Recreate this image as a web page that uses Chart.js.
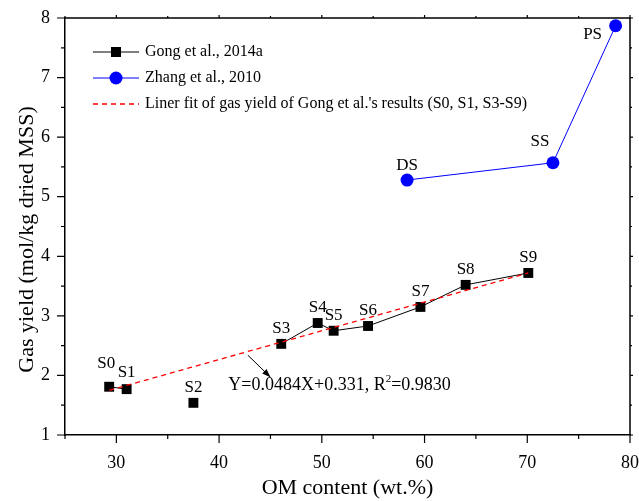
<!DOCTYPE html>
<html>
<head>
<meta charset="utf-8">
<script src="https://cdn.jsdelivr.net/npm/chart.js@4.4.1/dist/chart.umd.min.js"></script>
<style>
  html, body { margin: 0; padding: 0; background: #fff; }
  #wrap { width: 639px; height: 501px; }
</style>
</head>
<body>
<div id="wrap"><canvas id="myChart" width="639" height="501"></canvas></div>
<script>
// Gong et al., 2014a
const gongLabels = ['S0', 'S1', 'S2', 'S3', 'S4', 'S5', 'S6', 'S7', 'S8', 'S9'];
const gongX = [29.3, 31.0, 37.5, 46.05, 49.6, 51.15, 54.5, 59.6, 64.0, 70.1];
const gongY = [1.81, 1.77, 1.54, 2.53, 2.88, 2.75, 2.83, 3.15, 3.52, 3.72];

// Zhang et al., 2010
const zhangLabels = ['DS', 'SS', 'PS'];
const zhangX = [58.3, 72.5, 78.6];
const zhangY = [5.28, 5.57, 7.87];

// linear fit (S0, S1, S3-S9), ends
const fitX = [29.3, 70.1];
const fitY = [1.75, 3.72];

const xTickLabels = [30, 40, 50, 60, 70, 80];
const yTickLabels = [1, 2, 3, 4, 5, 6, 7, 8];

const fitText = 'Y=0.0484X+0.331, R';
const fitText2 = '=0.9830';

const serif = "'Liberation Serif', 'Times New Roman', serif";

// per-label nudges in px (default is straight above the marker)
const labelNudge = {
  S0: [-3, -23], S1: [0, -17], SS: [-13, -21], PS: [-23, 9]
};

const toPoints = (xs, ys) => xs.map((x, i) => ({ x: x, y: ys[i] }));

const decorPlugin = {
  id: 'decor',
  afterDatasetsDraw(chart) {
    const { ctx, chartArea: a, scales: { x, y } } = chart;
    ctx.save();

    // frame top + right
    ctx.strokeStyle = '#000';
    ctx.lineWidth = 1.5;
    ctx.beginPath();
    ctx.moveTo(a.left, a.top); ctx.lineTo(a.right, a.top); ctx.lineTo(a.right, a.bottom);
    ctx.stroke();

    // ticks, outward on all sides
    ctx.lineWidth = 1.2;
    ctx.beginPath();
    x.ticks.forEach(t => {
      const px = x.getPixelForValue(t.value);
      const major = t.value % 10 === 0;
      ctx.moveTo(px, a.bottom); ctx.lineTo(px, a.bottom + (major ? 8 : 4));
      ctx.moveTo(px, a.top); ctx.lineTo(px, a.top - (major ? 3 : 2));
    });
    y.ticks.forEach(t => {
      const py = y.getPixelForValue(t.value);
      const major = Number.isInteger(t.value);
      ctx.moveTo(a.left, py); ctx.lineTo(a.left - (major ? 8 : 4), py);
      ctx.moveTo(a.right, py); ctx.lineTo(a.right + (major ? 3 : 2), py);
    });
    ctx.stroke();

    // point labels
    ctx.fillStyle = '#000';
    ctx.font = '17px ' + serif;
    ctx.textAlign = 'center';
    ctx.textBaseline = 'middle';
    const drawLabels = (labels, xs, ys) => {
      labels.forEach((lab, i) => {
        const n = labelNudge[lab] || [0, -15];
        ctx.fillText(lab, x.getPixelForValue(xs[i]) + n[0], y.getPixelForValue(ys[i]) + n[1]);
      });
    };
    drawLabels(gongLabels, gongX, gongY);
    drawLabels(zhangLabels, zhangX, zhangY);

    // arrow to the fit equation
    const ax0 = x.getPixelForValue(42.8), ay0 = y.getPixelForValue(2.34);
    const ax1 = x.getPixelForValue(45.0), ay1 = y.getPixelForValue(1.97);
    ctx.lineWidth = 1;
    ctx.beginPath();
    ctx.moveTo(ax0, ay0); ctx.lineTo(ax1, ay1);
    ctx.stroke();
    const ang = Math.atan2(ay1 - ay0, ax1 - ax0);
    ctx.beginPath();
    ctx.moveTo(ax1, ay1);
    ctx.lineTo(ax1 - 9 * Math.cos(ang - 0.35), ay1 - 9 * Math.sin(ang - 0.35));
    ctx.lineTo(ax1 - 9 * Math.cos(ang + 0.35), ay1 - 9 * Math.sin(ang + 0.35));
    ctx.closePath();
    ctx.fill();

    // equation
    ctx.font = '18px ' + serif;
    ctx.textAlign = 'left';
    let tx = x.getPixelForValue(40.9);
    const ty = y.getPixelForValue(1.84);
    ctx.fillText(fitText, tx, ty);
    tx += ctx.measureText(fitText).width;
    ctx.font = '11px ' + serif;
    ctx.fillText('2', tx, ty - 6);
    tx += ctx.measureText('2').width;
    ctx.font = '18px ' + serif;
    ctx.fillText(fitText2, tx, ty);

    // legend
    const lx0 = a.left + 28, lx1 = a.left + 74, lt = a.left + 80;
    const rows = [a.top + 34, a.top + 60, a.top + 86];
    ctx.font = '16px ' + serif;
    ctx.lineWidth = 1;
    ctx.strokeStyle = '#000';
    ctx.beginPath(); ctx.moveTo(lx0, rows[0]); ctx.lineTo(lx1, rows[0]); ctx.stroke();
    ctx.fillStyle = '#000';
    ctx.fillRect((lx0 + lx1) / 2 - 5, rows[0] - 5, 10, 10);
    ctx.strokeStyle = '#0000ff';
    ctx.beginPath(); ctx.moveTo(lx0, rows[1]); ctx.lineTo(lx1, rows[1]); ctx.stroke();
    ctx.fillStyle = '#0000ff';
    ctx.beginPath(); ctx.arc((lx0 + lx1) / 2, rows[1], 6.5, 0, Math.PI * 2); ctx.fill();
    ctx.strokeStyle = '#ff0000';
    ctx.lineWidth = 1.3;
    ctx.setLineDash([5, 4]);
    ctx.beginPath(); ctx.moveTo(lx0, rows[2]); ctx.lineTo(lx1, rows[2]); ctx.stroke();
    ctx.setLineDash([]);
    ctx.fillStyle = '#000';
    ctx.fillText('Gong et al., 2014a', lt, rows[0]);
    ctx.fillText('Zhang et al., 2010', lt, rows[1]);
    ctx.fillText("Liner fit of gas yield of Gong et al.'s results (S0, S1, S3-S9)", lt, rows[2]);

    // y axis title
    ctx.font = '22px ' + serif;
    ctx.textAlign = 'center';
    ctx.translate(27, (a.top + a.bottom) / 2 + 13);
    ctx.rotate(-Math.PI / 2);
    ctx.fillText('Gas yield (mol/kg dried MSS)', 0, 0);

    ctx.restore();
  }
};

const initChart = () => {
  const ctx = document.getElementById('myChart').getContext('2d');
  // S2 sits alone, no line to its neighbours
  const s2 = gongLabels.indexOf('S2');
  new Chart(ctx, {
    type: 'scatter',
    data: {
      datasets: [
        {
          label: 'Gong et al., 2014a',
          data: toPoints(gongX, gongY),
          showLine: true,
          borderColor: '#000',
          backgroundColor: '#000',
          borderWidth: 1,
          pointStyle: 'rect',
          pointRadius: 7,
          pointBorderWidth: 0,
          segment: {
            borderColor: c => (c.p0DataIndex === s2 || c.p1DataIndex === s2) ? 'rgba(0,0,0,0)' : '#000'
          },
          order: 2
        },
        {
          label: 'Zhang et al., 2010',
          data: toPoints(zhangX, zhangY),
          showLine: true,
          borderColor: '#0000ff',
          backgroundColor: '#0000ff',
          borderWidth: 1,
          pointStyle: 'circle',
          pointRadius: 6.5,
          pointBorderWidth: 0,
          order: 2
        },
        {
          label: 'fit',
          data: toPoints(fitX, fitY),
          showLine: true,
          borderColor: '#ff0000',
          borderWidth: 1.3,
          borderDash: [5, 4],
          pointRadius: 0,
          order: 1
        }
      ]
    },
    options: {
      responsive: false,
      animation: false,
      layout: { padding: { left: 0, right: 9, top: 18, bottom: 0 } },
      plugins: { legend: { display: false }, tooltip: { enabled: false } },
      scales: {
        x: {
          type: 'linear',
          min: 25, max: 80,
          afterFit: s => { s.height = 66; s.paddingLeft = 0; s.paddingRight = 0; },
          grid: { display: false, drawTicks: false },
          border: { display: true, color: '#000', width: 1.5 },
          ticks: {
            stepSize: 5, autoSkip: false, maxRotation: 0, padding: 17,
            color: '#000', font: { family: serif, size: 18 },
            callback: v => xTickLabels.includes(v) ? String(v) : ''
          },
          title: {
            display: true, text: 'OM content (wt.%)', color: '#000',
            font: { family: serif, size: 22 }, padding: { top: 0, bottom: 0 }
          }
        },
        y: {
          type: 'linear',
          min: 1, max: 8,
          afterFit: s => { s.width = 65; s.paddingTop = 0; s.paddingBottom = 0; },
          grid: { display: false, drawTicks: false },
          border: { display: true, color: '#000', width: 1.5 },
          ticks: {
            stepSize: 0.5, autoSkip: false, padding: 15,
            color: '#000', font: { family: serif, size: 18 },
            callback: v => yTickLabels.includes(v) ? String(v) : ''
          }
        }
      }
    },
    plugins: [decorPlugin]
  });
};

initChart();
</script>
</body>
</html>
